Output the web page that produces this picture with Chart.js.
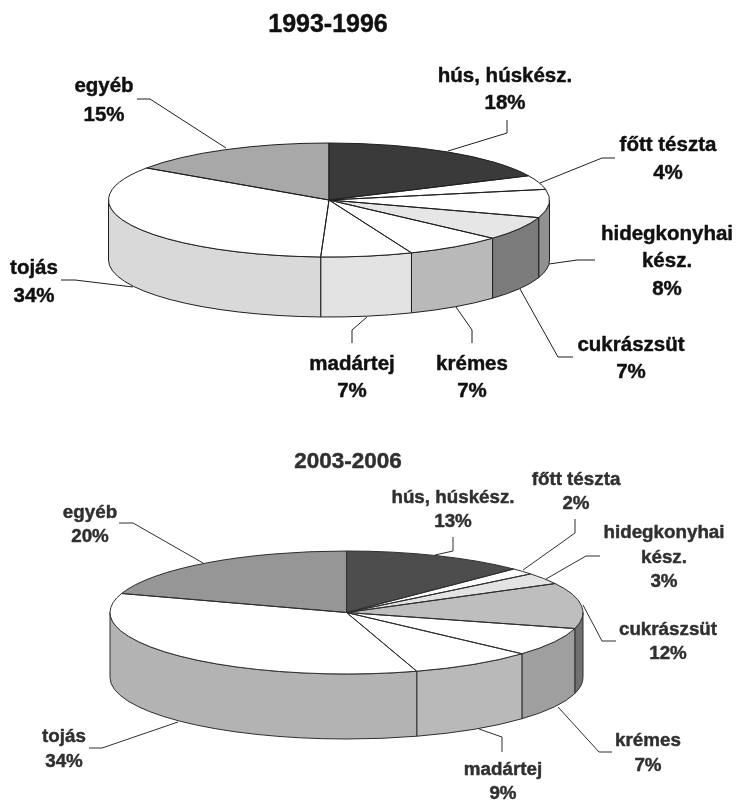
<!DOCTYPE html>
<html>
<head>
<meta charset="utf-8">
<title>1993-1996 / 2003-2006</title>
<script src="https://cdn.jsdelivr.net/npm/chart.js@4"></script>
<style>
  html, body { margin: 0; padding: 0; background: #fff; }
  body { position: relative; width: 737px; height: 801px; overflow: hidden; }
  canvas { position: absolute; left: 0; display: block; }
  #pieOld { top: 0; }
  #pieNew { top: 400px; }
</style>
</head>
<body>
<canvas id="pieOld" width="737" height="400"></canvas>
<canvas id="pieNew" width="737" height="401"></canvas>
<script>
// slice order, clockwise from 12 o'clock
const categories = ["hús, húskész.", "főtt tészta", "hidegkonyhai készítmény", "cukrászsüt", "krémes", "madártej", "tojás", "egyéb"];
const labelLines = [["hús, húskész."], ["főtt tészta"], ["hidegkonyhai", "kész."], ["cukrászsüt"], ["krémes"], ["madártej"], ["tojás"], ["egyéb"]];

// slice sizes, printed percentages kept apart
const values1993 = [18, 4, 8, 6.7, 7.2, 6.7, 33.9, 15.5];
const percent1993 = ["18%", "4%", "8%", "7%", "7%", "7%", "34%", "15%"];
const values2003 = [12.5, 1.7, 3, 12, 7.5, 8.5, 34.8, 20];
const percent2003 = ["13%", "2%", "3%", "12%", "7%", "9%", "34%", "20%"];

const topColors1993 = ["#3a3a3a", "#ffffff", "#ffffff", "#e6e6e6", "#ffffff", "#ffffff", "#ffffff", "#a8a8a8"];
const sideColors1993 = ["#3a3a3a", "#ffffff", "#919191", "#7b7b7b", "#b9b9b9", "#e3e3e3", "#d9d9d9", "#a8a8a8"];
const topColors2003 = ["#4d4d4d", "#ffffff", "#e3e3e3", "#bebebe", "#ffffff", "#ffffff", "#ffffff", "#969696"];
const sideColors2003 = ["#4d4d4d", "#ffffff", "#e3e3e3", "#707070", "#9f9f9f", "#b9b9b9", "#b3b3b3", "#969696"];

// label placement: centre x, then one baseline per text line (page pixels)
const labelPos1993 = [
  [505, 82, 109], [668, 151, 179], [667, 240, 267, 295], [631, 351, 378],
  [472, 370, 397], [352, 370, 397], [34, 274, 302], [104, 92, 121],
];
const leaders1993 = [
  [[507, 120], [507, 133], [448, 151]],
  [[615, 158], [602, 158], [540, 183]],
  [[595, 260], [577, 260], [549, 264]],
  [[520, 289], [558, 357], [573, 357]],
  [[456, 307], [472, 330], [472, 343]],
  [[367, 317], [352, 330], [352, 343]],
  [[61, 280], [75, 280], [133, 287]],
  [[137, 99], [150, 99], [226, 148]],
];
const labelPos2003 = [
  [453, 503, 527], [576, 485, 509], [664, 538, 563, 587], [668, 635, 659],
  [648, 746, 771], [503, 775, 799], [64, 742, 767], [90, 518, 542],
];
const leaders2003 = [
  [[453, 537], [453, 551], [435, 555]],
  [[575, 519], [575, 533], [523, 570]],
  [[600, 556], [586, 556], [546, 579]],
  [[583, 605], [602, 641], [616, 641]],
  [[558, 707], [599, 752], [612, 752]],
  [[479, 729], [502, 737], [502, 752]],
  [[89, 748], [102, 748], [178, 722]],
  [[119, 523], [133, 523], [203, 563]],
];

const flatPie = {
  id: "flatPie",
  beforeDatasetsDraw(chart, args, o) {
    const ctx = chart.ctx;
    const arcs = chart.getDatasetMeta(0).data;
    const cx = arcs[0].x, cy = arcs[0].y, rx = arcs[0].outerRadius;
    ctx.save();
    ctx.lineWidth = 1;
    ctx.strokeStyle = o.lineColor;
    // side wall, only the front half of the rim shows
    arcs.forEach((arc, i) => {
      const a0 = Math.max(arc.startAngle, 0);
      const a1 = Math.min(arc.endAngle, Math.PI);
      if (a1 <= a0) return;
      ctx.beginPath();
      ctx.ellipse(cx, cy, rx, o.ry, 0, a0, a1);
      ctx.ellipse(cx, cy + o.depth, rx, o.ry, 0, a1, a0, true);
      ctx.closePath();
      ctx.fillStyle = o.sideColors[i];
      ctx.fill();
      ctx.stroke();
    });
    ctx.restore();
    // squash the round pie into the top ellipse
    ctx.save();
    ctx.translate(cx, cy);
    ctx.scale(1, o.ry / rx);
    ctx.translate(-cx, -cy);
  },
  afterDatasetsDraw(chart, args, o) {
    const ctx = chart.ctx;
    ctx.restore();
    const arcs = chart.getDatasetMeta(0).data;
    const cx = arcs[0].x, cy = arcs[0].y, rx = arcs[0].outerRadius;
    ctx.save();
    ctx.lineWidth = 1;
    ctx.strokeStyle = o.lineColor;
    arcs.forEach((arc) => {
      ctx.beginPath();
      ctx.moveTo(cx, cy);
      ctx.ellipse(cx, cy, rx, o.ry, 0, arc.startAngle, arc.endAngle);
      ctx.closePath();
      ctx.stroke();
    });

    // labels and leader lines use page pixels
    ctx.translate(0, -o.pageTop);
    o.leaders.forEach((pts) => {
      ctx.beginPath();
      pts.forEach((p, k) => (k ? ctx.lineTo(p[0], p[1]) : ctx.moveTo(p[0], p[1])));
      ctx.stroke();
    });

    // reference type is heavier than plain bold, so add a thin stroke
    ctx.fillStyle = o.textColor;
    ctx.strokeStyle = o.textColor;
    ctx.lineWidth = 0.45;
    ctx.lineJoin = "round";
    ctx.textAlign = "center";
    ctx.textBaseline = "alphabetic";
    const put = (t, x, y) => {
      ctx.fillText(t, x, y);
      ctx.strokeText(t, x, y);
    };
    ctx.font = `bold ${o.titleSize}px "Liberation Sans"`;
    put(o.title[0], o.title[1], o.title[2]);
    ctx.font = `bold ${o.labelSize}px "Liberation Sans"`;
    labelLines.forEach((lines, i) => {
      const pos = o.labelPos[i];
      [...lines, o.percents[i]].forEach((t, k) => put(t, pos[0], pos[k + 1]));
    });
    ctx.restore();
  },
};

function makePie(id, values, topColors, pie) {
  return new Chart(document.getElementById(id), {
    type: "pie",
    data: {
      labels: categories,
      datasets: [{ data: values, backgroundColor: topColors, borderWidth: 0, hoverOffset: 0, clip: false }],
    },
    options: {
      responsive: false,
      animation: false,
      radius: pie.rx,
      layout: { padding: pie.padding },
      events: [],
      plugins: {
        legend: { display: false },
        tooltip: { enabled: false },
        flatPie: pie,
      },
    },
    plugins: [flatPie],
  });
}

makePie("pieOld", values1993, topColors1993, {
  rx: 220.5, ry: 57, depth: 60, padding: { right: 79 }, pageTop: 0,
  sideColors: sideColors1993, lineColor: "#1f1f1f", textColor: "#111111",
  title: ["1993-1996", 328, 32], titleSize: 25, labelSize: 20.5,
  labelPos: labelPos1993, leaders: leaders1993, percents: percent1993,
});

makePie("pieNew", values2003, topColors2003, {
  rx: 236.5, ry: 61.5, depth: 65, padding: { right: 44, top: 24 }, pageTop: 400,
  sideColors: sideColors2003, lineColor: "#2e2e2e", textColor: "#303030",
  title: ["2003-2006", 348, 468], titleSize: 22.5, labelSize: 18.8,
  labelPos: labelPos2003, leaders: leaders2003, percents: percent2003,
});
</script>
</body>
</html>
